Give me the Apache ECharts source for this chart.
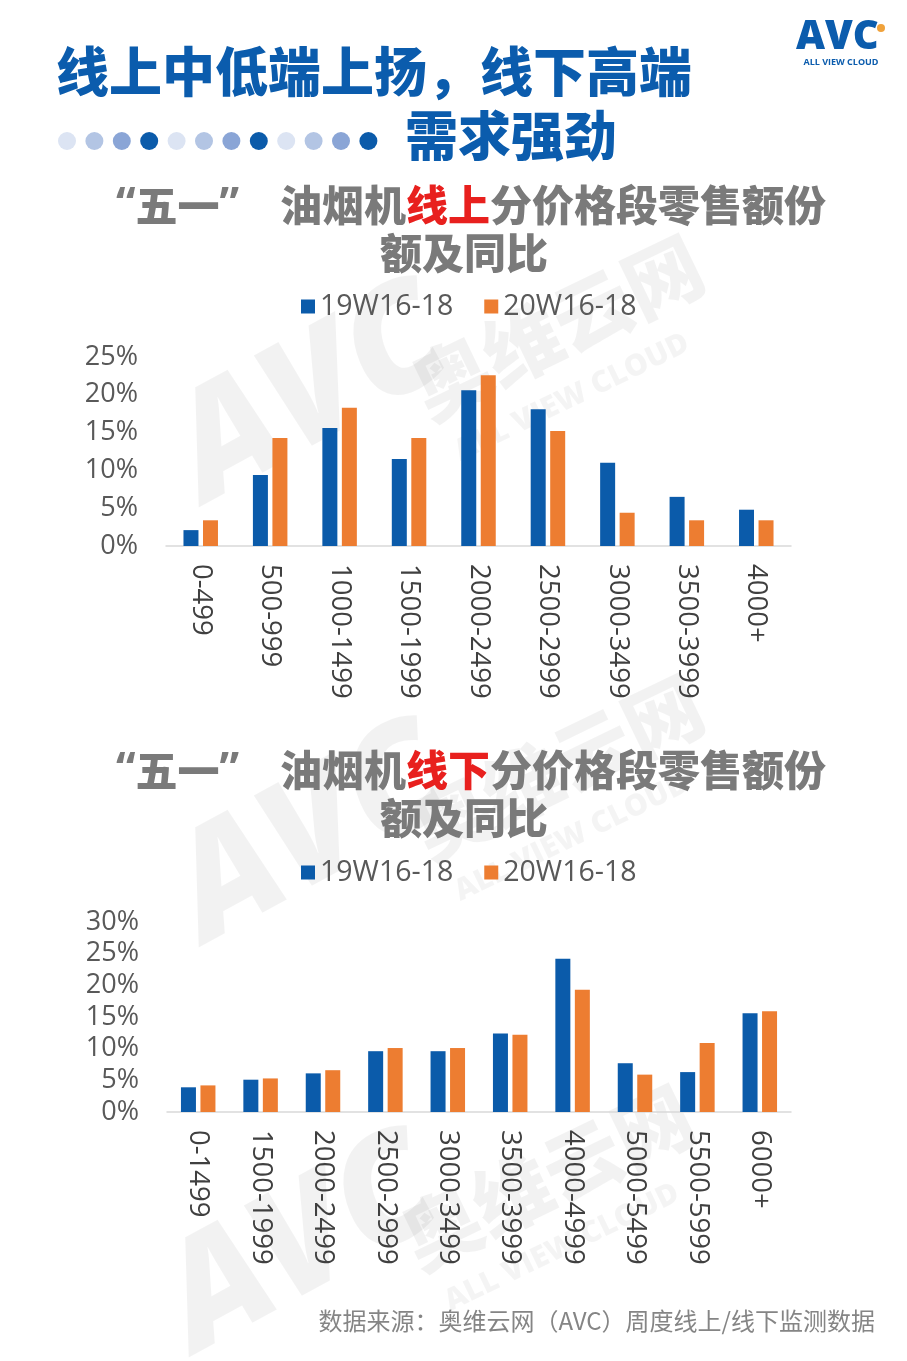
<!DOCTYPE html>
<html>
<head>
<meta charset="utf-8">
<script src="https://cdn.jsdelivr.net/npm/echarts@6/dist/echarts.min.js"></script>
<style>
html,body{margin:0;padding:0;background:#fff;}
#c{width:907px;height:1361px;}
</style>
</head>
<body>
<div id="c"></div>
<script>
// ---- data ----
var seriesNames = ['19W16-18', '20W16-18'];
var onlineCats = ['0-499', '500-999', '1000-1499', '1500-1999', '2000-2499', '2500-2999', '3000-3499', '3500-3999', '4000+'];
var online19 = [2.1, 9.4, 15.6, 11.5, 20.6, 18.1, 11.0, 6.5, 4.8];
var online20 = [3.4, 14.3, 18.3, 14.3, 22.6, 15.2, 4.4, 3.4, 3.4];
var offlineCats = ['0-1499', '1500-1999', '2000-2499', '2500-2999', '3000-3499', '3500-3999', '4000-4999', '5000-5499', '5500-5999', '6000+'];
var offline19 = [3.9, 5.1, 6.1, 9.6, 9.6, 12.4, 24.2, 7.7, 6.3, 15.6];
var offline20 = [4.2, 5.3, 6.6, 10.1, 10.1, 12.2, 19.3, 5.9, 10.9, 15.9];
var onlineTicks = [0, 25, 5];   // min, max, interval
var offlineTicks = [0, 30, 5];

var BLUE = '#0B5BAA', ORANGE = '#ED7D31', TITLEBLUE = '#0B5CAD';
var CJK = '"Noto Sans CJK SC", "Noto Sans", sans-serif';
var LAT = '"Open Sans", "Noto Sans", sans-serif';

var chart = echarts.init(document.getElementById('c'), null, {renderer: 'canvas'});

function chartTitle(top, red) {
  return [
    {left: 116, top: top, padding: 0, text: '{q|“}五一{q|”}',
     textStyle: {fontFamily: CJK, fontSize: 42, fontWeight: 900, color: '#7a7a7a',
       rich: {q: {fontFamily: LAT, fontSize: 44, fontWeight: 700, color: '#7a7a7a'}}}},
    {left: 280, top: top, padding: 0, text: '油烟机{r|' + red + '}分价格段零售额份',
     textStyle: {fontFamily: CJK, fontSize: 42, fontWeight: 900, color: '#7a7a7a',
       rich: {r: {fontFamily: CJK, fontSize: 42, fontWeight: 900, color: '#E8201E'}}}},
    {left: 380, top: top + 48, padding: 0, text: '额及同比', textStyle: {fontFamily: CJK, fontSize: 42, fontWeight: 900, color: '#7a7a7a'}}
  ];
}

var dotColors = ['#dce4f3', '#b3c5e4', '#8aa5d6', BLUE];
var graphics = [];
// watermarks
function watermark(x, y) {
  graphics.push({type: 'text', silent: true, z: -10, x: x, y: y, rotation: 0.5,
    style: {text: 'AVC', font: 'italic 900 150px ' + LAT, fill: 'rgba(0,0,0,0.05)'}});
  graphics.push({type: 'text', silent: true, z: -10, x: x + 250, y: y - 40, rotation: 0.45,
    style: {text: '奥维云网', font: '900 78px ' + CJK, fill: 'rgba(0,0,0,0.05)'}});
  graphics.push({type: 'text', silent: true, z: -10, x: x + 300, y: y + 40, rotation: 0.45,
    style: {text: 'ALL VIEW CLOUD', font: '900 30px ' + LAT, fill: 'rgba(0,0,0,0.045)'}});
}
watermark(150, 400);
watermark(150, 840);
watermark(140, 1250);
for (var i = 0; i < 12; i++) {
  graphics.push({type: 'circle', silent: true, shape: {cx: 67 + i * 27.4, cy: 141, r: 9}, style: {fill: dotColors[i % 4]}});
}
// logo
graphics.push({type: 'text', x: 796, y: 18, style: {text: 'AVC', font: '900 40px ' + LAT, fill: TITLEBLUE}});
graphics.push({type: 'circle', silent: true, shape: {cx: 881, cy: 28, r: 4}, style: {fill: '#F0A23B'}});
graphics.push({type: 'text', x: 841, y: 62, style: {text: 'ALL VIEW CLOUD', font: '700 9px ' + LAT, fill: TITLEBLUE, align: 'center', verticalAlign: 'middle'}});
// footer
graphics.push({type: 'text', right: 32, top: 1309, style: {text: '数据来源：奥维云网（AVC）周度线上/线下监测数据', font: '400 24px ' + CJK, fill: '#858585'}});

var titles = [
  {left: 56, top: 45, padding: 0, text: '线上中低端上扬，线下高端', textStyle: {fontFamily: CJK, fontSize: 53, fontWeight: 900, color: TITLEBLUE}},
  {left: 405, top: 109, padding: 0, text: '需求强劲', textStyle: {fontFamily: CJK, fontSize: 53, fontWeight: 900, color: TITLEBLUE}}
].concat(chartTitle(184, '线上')).concat(chartTitle(749, '线下'));

function yAxis(idx, t) {
  return {type: 'value', gridIndex: idx, min: t[0], max: t[1], interval: t[2],
    splitLine: {show: false}, axisLine: {show: false}, axisTick: {show: false},
    axisLabel: {formatter: '{value}%', fontFamily: LAT, fontSize: 27, color: '#595959', margin: 28}};
}
function xAxis(idx, cats) {
  return {type: 'category', gridIndex: idx, data: cats,
    axisLine: {lineStyle: {color: '#d9d9d9', width: 1.5}}, axisTick: {show: false},
    axisLabel: {rotate: -90, interval: 0, margin: 18, fontFamily: LAT, fontSize: 27.5, color: '#404040'}};
}
function bars(name, data, color, idx) {
  return {name: name, type: 'bar', xAxisIndex: idx, yAxisIndex: idx, data: data,
    barWidth: 15, barGap: '30%', itemStyle: {color: color}};
}
function legend(top) {
  return {top: top, left: 296, itemWidth: 14, itemHeight: 14, itemGap: 31, icon: 'rect',
    textStyle: {fontFamily: LAT, fontSize: 28.5, color: '#595959'}, data: seriesNames};
}

chart.setOption({
  backgroundColor: '#fff',
  animation: false,
  title: titles,
  graphic: graphics,
  legend: [legend(287), legend(853)],
  grid: [
    {left: 166, width: 625, top: 357, height: 189},
    {left: 167, width: 624, top: 922, height: 190}
  ],
  xAxis: [xAxis(0, onlineCats), xAxis(1, offlineCats)],
  yAxis: [yAxis(0, onlineTicks), yAxis(1, offlineTicks)],
  series: [
    bars(seriesNames[0], online19, BLUE, 0),
    bars(seriesNames[1], online20, ORANGE, 0),
    bars(seriesNames[0], offline19, BLUE, 1),
    bars(seriesNames[1], offline20, ORANGE, 1)
  ]
});
</script>
</body>
</html>
